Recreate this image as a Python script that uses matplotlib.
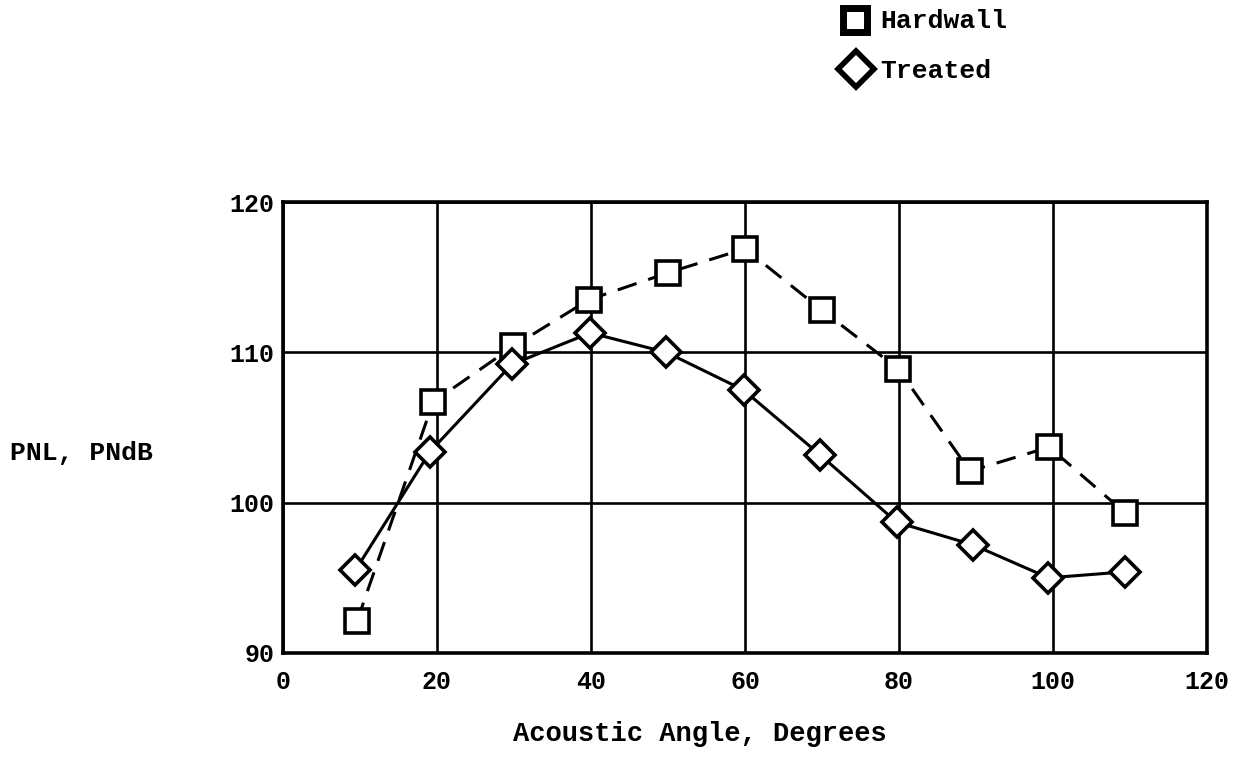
import matplotlib
matplotlib.use('Agg')
import matplotlib.pyplot as plt
from matplotlib.lines import Line2D

# values
hard_x = [9.6, 19.5, 29.9, 39.7, 50.0, 60.0, 70.0, 79.9, 89.2, 99.5, 109.4]
hard_y = [92.1, 106.7, 110.4, 113.5, 115.3, 116.9, 112.8, 108.9, 102.1, 103.7, 99.3]
treat_x = [9.4, 19.1, 29.7, 39.9, 49.8, 59.8, 69.7, 79.7, 89.6, 99.4, 109.4]
treat_y = [95.5, 103.4, 109.2, 111.3, 110.0, 107.5, 103.2, 98.7, 97.2, 95.0, 95.4]
xticks = [0, 20, 40, 60, 80, 100, 120]
yticks = [90, 100, 110, 120]

font = 'Liberation Mono'

fig = plt.figure(figsize=(12.33, 7.57), dpi=100)
ax = fig.add_axes([0.2295, 0.1374, 0.7495, 0.5956])

ax.plot(hard_x, hard_y, color='black', lw=2.2, dashes=(6.5, 4),
        marker='s', ms=17, mfc='white', mec='black', mew=2.6, zorder=3)
ax.plot(treat_x, treat_y, color='black', lw=2.2, ls='-',
        marker='D', ms=15, mfc='white', mec='black', mew=2.6, zorder=4)

ax.set_xlim(0, 120)
ax.set_ylim(90, 120)
ax.set_xticks(xticks)
ax.set_yticks(yticks)
ax.tick_params(length=0, labelsize=18)
ax.tick_params(axis='x', pad=12)
ax.tick_params(axis='y', pad=6)
for lab in ax.get_xticklabels() + ax.get_yticklabels():
    lab.set_fontfamily(font)
    lab.set_fontweight('bold')
ax.grid(True, color='black', lw=1.9)
for sp in ax.spines.values():
    sp.set_linewidth(2.6)

# axis titles sit where the scan has them (x title is left of axes centre)
fig.text(700 / 1233, 1 - 734 / 757, 'Acoustic Angle, Degrees', fontfamily=font,
         fontweight='bold', fontsize=19.5, ha='center', va='center')
fig.text(0.008, 1 - 453 / 757, 'PNL, PNdB', fontfamily=font, fontweight='bold',
         fontsize=19, va='center', ha='left')

# legend drawn by hand, top right above the plot
fig.add_artist(Line2D([855 / 1233], [1 - 20 / 757], transform=fig.transFigure, ls='none',
                      marker='s', ms=17, mfc='white', mec='black', mew=5))
fig.add_artist(Line2D([856 / 1233], [1 - 69 / 757], transform=fig.transFigure, ls='none',
                      marker='D', ms=18, mfc='white', mec='black', mew=4))
fig.text(880 / 1233, 1 - 21 / 757, 'Hardwall', fontfamily=font, fontweight='bold',
         fontsize=19, va='center', ha='left')
fig.text(880 / 1233, 1 - 71 / 757, 'Treated', fontfamily=font, fontweight='bold',
         fontsize=19, va='center', ha='left')

fig.savefig('out.png', dpi=100)
